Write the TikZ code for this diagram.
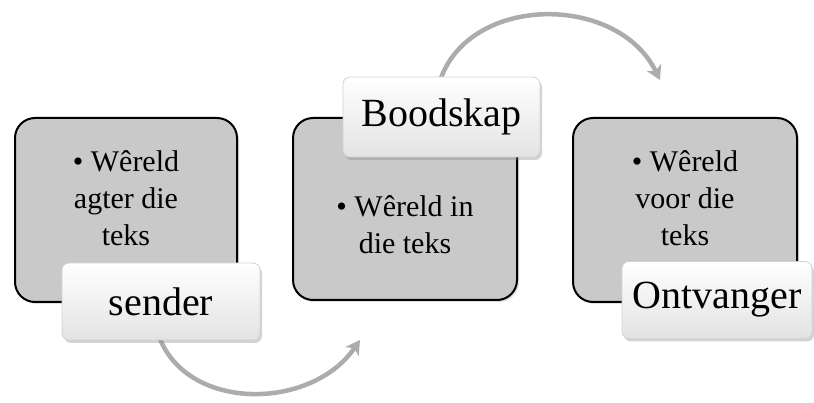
\documentclass[tikz,border=0pt]{standalone}
\usepackage{fontspec}
\setmainfont{Liberation Serif}
\usetikzlibrary{shadows,arrows.meta}
\begin{document}
\begin{tikzpicture}[x=1pt,y=-1pt,
  worldbox/.style={draw=black,line width=2pt,fill=black!21,rounded corners=20pt,
    minimum width=222pt,minimum height=184pt,inner sep=0pt,
    drop shadow={opacity=0.25,shadow xshift=2pt,shadow yshift=-2pt}},
  worldtext/.style={align=center,font=\fontsize{30}{37}\selectfont,inner sep=0pt},
  tagbox/.style={draw=gray!35,line width=0.8pt,top color=white,bottom color=gray!22,
    rounded corners=7pt,minimum height=77pt,inner sep=0pt,
    font=\fontsize{40}{48}\selectfont,
    drop shadow={opacity=0.35,shadow xshift=2pt,shadow yshift=-3pt}},
  flow/.style={draw=gray!65,line width=4.5pt,
    -{Stealth[length=14pt,width=16pt,inset=4pt]}}
]
\useasboundingbox (0,0) rectangle (814,403);
% boxes
\node[worldbox] (b1) at (126,210) {};
\node[worldbox,minimum width=224pt,minimum height=182pt] (b2) at (405,209) {};
\node[worldbox,minimum width=224pt] (b3) at (685,210) {};
\node[worldtext] (t1) at (126,198) {\textbullet\ Wêreld\\agter die\\teks};
\node[worldtext] (t2) at (405,225) {\textbullet\ Wêreld in\\die teks};
\node[worldtext] (t3) at (685,198) {\textbullet\ Wêreld\\voor die\\teks};
% arrow end points
\coordinate (e1) at (360,340);
\coordinate (e2) at (660,80);
\coordinate (s1) at (160,339);
\coordinate (s2) at (441,78);
\draw[flow] (s1) .. controls (190,412) and (312,410) .. (e1);
\draw[flow] (s2) .. controls (472,-6) and (618,-6) .. (e2);
% tags
\node[tagbox,minimum width=198pt] (l1) at (161,301.5) {sender};
\node[tagbox,minimum width=197pt,minimum height=80pt] (l2) at (441.5,117) {Boodskap};
\node[tagbox,minimum width=190pt] (l3) at (717,300) {Ontvanger};
\end{tikzpicture}
\end{document}
